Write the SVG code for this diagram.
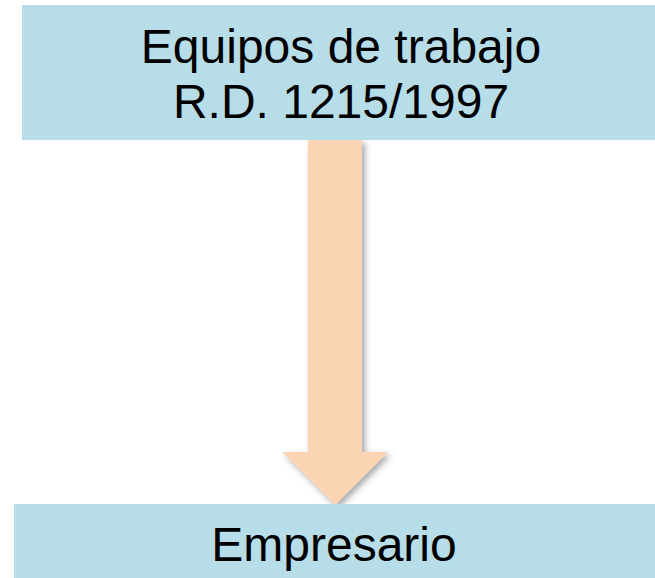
<svg xmlns="http://www.w3.org/2000/svg" width="655" height="578" viewBox="0 0 655 578">
<style>
.box{fill:#B7DDE8}
.lbl{font-family:"Liberation Sans",Arial,sans-serif;font-size:48px;fill:#000;text-anchor:middle}
.arrow{fill:#FBD4B4}
</style>
<defs>
<filter id="sh" x="-20%" y="-10%" width="140%" height="130%">
<feDropShadow dx="3" dy="3" stdDeviation="3" flood-color="#000" flood-opacity="0.35"/>
</filter>
</defs>
<g id="connectors">
<polygon class="arrow" filter="url(#sh)" points="308,140 362,140 362,452 388,452 335,505 282,452 308,452"/>
</g>
<g id="node-equipos">
<rect class="box" x="22" y="5" width="633" height="135"/>
<text class="lbl" x="341" y="63">Equipos de trabajo</text>
<text class="lbl" x="341" y="118">R.D. 1215/1997</text>
</g>
<g id="node-empresario">
<rect class="box" x="14" y="504" width="641" height="74"/>
<text class="lbl" x="334" y="561">Empresario</text>
</g>
</svg>
